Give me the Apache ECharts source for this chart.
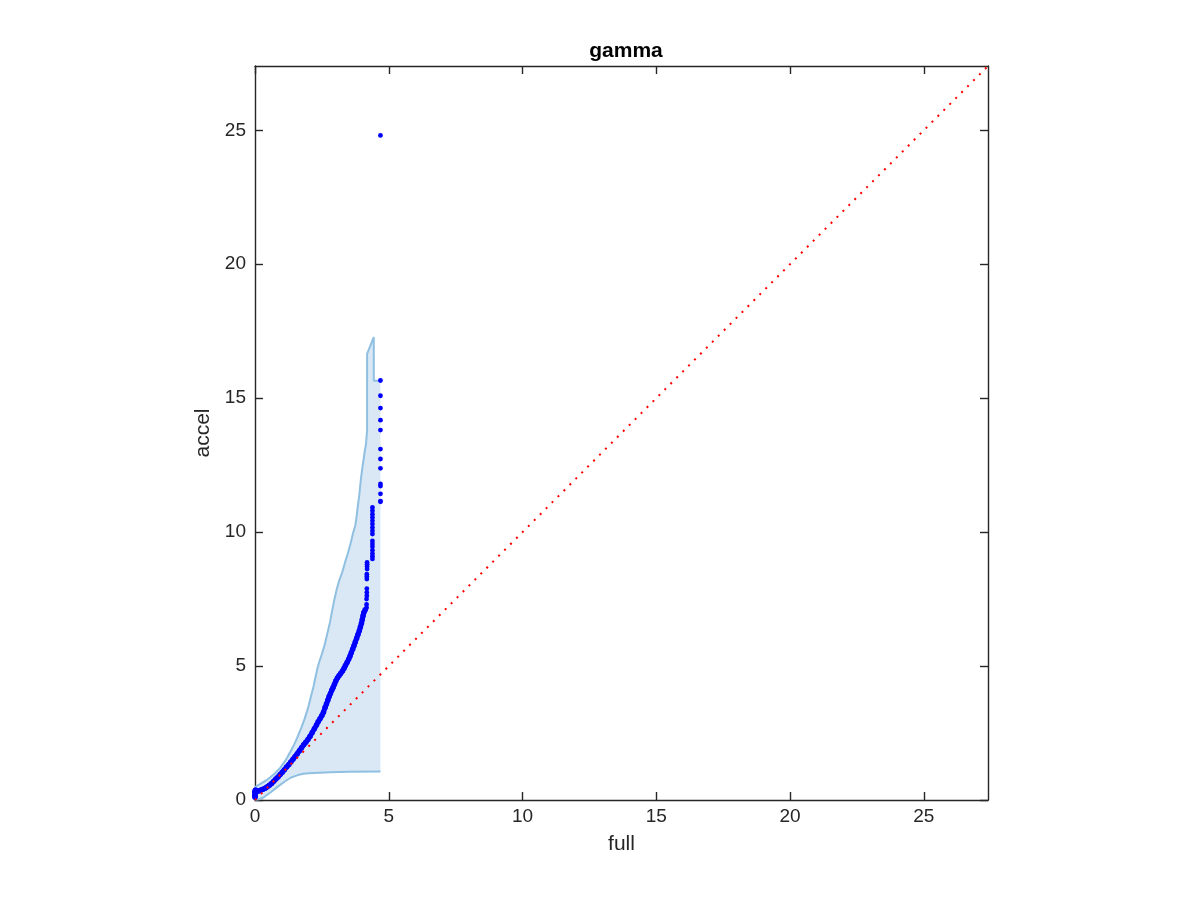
<!DOCTYPE html>
<html>
<head>
<meta charset="utf-8">
<script src="https://cdn.jsdelivr.net/npm/echarts@6/dist/echarts.min.js"></script>
<style>
html,body{margin:0;padding:0;background:#fff;}
#chart{width:1200px;height:900px;}
</style>
</head>
<body>
<div id="chart"></div>
<script>
// ---- data ----
var titleText = 'gamma';
var xName = 'full';
var yName = 'accel';
var axisMax = 27.4;
var tickValues = [0, 5, 10, 15, 20, 25];

// upper envelope of the band (x = full, y = accel)
var bandUpper = [
  [0,0.48],[0.2,0.6],[0.4,0.72],[0.56,0.84],[0.75,1.0],[0.94,1.2],[1.1,1.42],[1.2,1.58],
  [1.31,1.78],[1.45,2.04],[1.56,2.28],[1.66,2.52],[1.75,2.75],[1.85,3.02],[1.94,3.3],
  [2.0,3.5],[2.06,3.74],[2.12,3.98],[2.19,4.25],[2.26,4.58],[2.33,4.9],[2.4,5.15],
  [2.5,5.45],[2.6,5.78],[2.7,6.2],[2.8,6.62],[2.88,7.05],[2.96,7.45],[3.05,7.85],
  [3.15,8.2],[3.26,8.5],[3.36,8.85],[3.47,9.2],[3.58,9.6],[3.66,9.95],[3.75,10.25],
  [3.8,10.6],[3.84,10.95],[3.9,11.4],[3.96,12.0],[4.02,12.45],[4.1,13.0],[4.15,13.3],
  [4.19,13.8],[4.19,16.65],[4.44,17.28],[4.44,15.65],[4.69,15.65]
];
// lower envelope of the band
var bandLower = [
  [0,0.01],[0.15,0.03],[0.33,0.1],[0.6,0.3],[0.83,0.48],[1.1,0.68],[1.33,0.83],
  [1.6,0.93],[1.81,0.98],[2.0,1.0],[2.4,1.02],[2.82,1.04],[3.5,1.05],[4.69,1.06]
];

// quantile points (full, accel): dense lower part
var qqDense = [
  [0,0.1],[0,0.14],[0,0.18],[0,0.22],[0,0.26],[0,0.3],[0,0.34],[0.02,0.37],
  [0.08,0.33],[0.15,0.34],[0.22,0.37],[0.3,0.4],[0.38,0.44],[0.46,0.49],[0.54,0.55],
  [0.62,0.62],[0.7,0.7],[0.78,0.78],[0.86,0.86],[0.94,0.95],[1.02,1.04],[1.1,1.13],
  [1.18,1.23],[1.26,1.32],[1.34,1.42],[1.42,1.52],[1.5,1.62],[1.58,1.73],[1.66,1.84],
  [1.74,1.95],[1.82,2.06],[1.9,2.16],[1.98,2.26],[2.06,2.38],[2.14,2.52],[2.22,2.66],
  [2.3,2.8],[2.36,2.92],[2.43,3.03],[2.5,3.15],[2.56,3.28],[2.62,3.45],[2.67,3.58],
  [2.72,3.72],[2.77,3.86],[2.82,3.98],[2.87,4.1],[2.92,4.2],[2.97,4.32],[3.02,4.44],
  [3.08,4.55],[3.14,4.64],[3.2,4.72],[3.27,4.82],[3.33,4.92],[3.38,5.02],[3.44,5.13],
  [3.5,5.25],[3.55,5.37],[3.6,5.5],[3.65,5.63],[3.7,5.76],[3.75,5.9],[3.8,6.04],
  [3.85,6.18],[3.9,6.32],[3.94,6.46],[3.98,6.6],[4.01,6.74],[4.04,6.88],[4.07,7.0],
  [4.12,7.1]
];
// quantile points: sparse upper tail
var qqTail = [
  [4.17,7.18],[4.17,7.3],[4.17,7.5],[4.18,7.62],[4.18,7.75],[4.18,7.89],
  [4.18,8.25],[4.18,8.34],[4.18,8.43],[4.19,8.62],[4.19,8.72],[4.19,8.8],[4.19,8.87],
  [4.39,9.0],[4.39,9.1],[4.39,9.2],[4.39,9.32],[4.39,9.45],[4.39,9.56],[4.39,9.67],
  [4.39,9.93],[4.39,10.05],[4.39,10.17],[4.39,10.3],[4.39,10.42],[4.39,10.55],
  [4.39,10.67],[4.39,10.8],[4.39,10.92],
  [4.69,11.13],[4.69,11.16],[4.69,11.43],[4.69,11.72],[4.69,11.8],[4.69,12.38],
  [4.69,12.73],[4.69,13.1],[4.69,13.81],[4.69,14.18],[4.69,14.63],[4.69,15.09],
  [4.69,15.66],[4.69,24.81]
];

// reference diagonal y = x
var diagLine = [[0,0],[27.4,27.4]];

var font = '"Liberation Sans", Arial, Helvetica, sans-serif';
var axisColor = '#262626';

function mkAxis(pos, showLabels, nameText) {
  return {
    type: 'value', position: pos, min: 0, max: axisMax, interval: 5,
    name: nameText || '',
    nameLocation: 'middle',
    nameGap: pos === 'left' ? 41 : 34,
    nameTextStyle: {fontFamily: font, fontSize: 21, color: axisColor},
    axisLine: {show: true, onZero: false, lineStyle: {color: axisColor, width: 1.4}},
    axisTick: {show: true, inside: true, length: 8, lineStyle: {color: axisColor, width: 1.4},
      customValues: tickValues},
    axisLabel: {show: showLabels, fontFamily: font, fontSize: 19, color: axisColor,
      margin: pos === 'left' ? 9 : 7,
      customValues: tickValues,
      formatter: function (v) { return String(v); }},
    splitLine: {show: false}
  };
}

var chart = echarts.init(document.getElementById('chart'));
chart.setOption({
  animation: false,
  backgroundColor: '#ffffff',
  title: {
    text: titleText, left: 621, top: 36, textAlign: 'center',
    textStyle: {fontFamily: font, fontSize: 21, fontWeight: 'bold', color: '#000'}
  },
  grid: {left: 255, top: 66, width: 733, height: 734, containLabel: false},
  xAxis: [mkAxis('bottom', true, xName), mkAxis('top', false)],
  yAxis: [mkAxis('left', true, yName), mkAxis('right', false)],
  series: [
    {
      type: 'custom', xAxisIndex: 0, yAxisIndex: 0, silent: true, z: 1,
      data: [[0, 0]],
      renderItem: function (params, api) {
        var poly = bandUpper.concat(bandLower.slice().reverse());
        var pts = poly.map(function (p) { return api.coord(p); });
        return {type: 'polygon', shape: {points: pts},
          style: {fill: '#d9e8f4', stroke: null}};
      }
    },
    {
      type: 'line', data: bandUpper, symbol: 'none', z: 2, silent: true,
      lineStyle: {color: '#8fc0e2', width: 2}
    },
    {
      type: 'line', data: bandLower, symbol: 'none', z: 2, silent: true,
      lineStyle: {color: '#8fc0e2', width: 2}
    },
    {
      type: 'line', data: qqDense.slice(8), symbol: 'none', z: 3, silent: true,
      lineStyle: {color: '#0000ff', width: 5}
    },
    {
      type: 'scatter', data: qqDense, symbol: 'circle', symbolSize: 5.5, z: 3,
      itemStyle: {color: '#0000ff', opacity: 1}
    },
    {
      type: 'scatter', data: qqTail, symbol: 'circle', symbolSize: 4.8, z: 3,
      itemStyle: {color: '#0000ff', opacity: 1}
    },
    {
      type: 'line', data: diagLine, symbol: 'none', z: 4, silent: true,
      lineStyle: {color: '#ff0000', width: 2, type: [2, 6.4], cap: 'butt'}
    }
  ]
});
</script>
</body>
</html>
